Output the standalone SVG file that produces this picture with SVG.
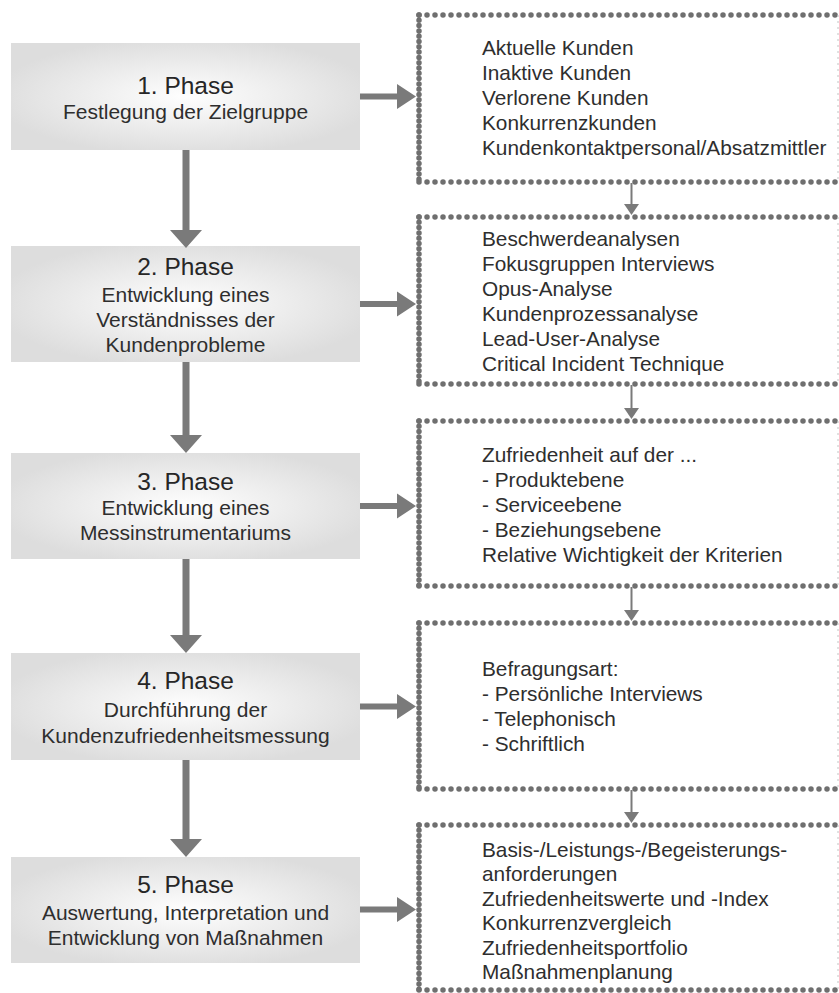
<svg xmlns="http://www.w3.org/2000/svg" width="839" height="993" viewBox="0 0 839 993">
<defs>
<radialGradient id="pg" cx="50%" cy="50%" r="55%">
<stop offset="0" stop-color="#fefefe"/>
<stop offset="0.55" stop-color="#ececec"/>
<stop offset="1" stop-color="#dddddd"/>
</radialGradient>
<style>
.pbox{fill:url(#pg);}
.title{font-family:"Liberation Sans",Arial,sans-serif;font-size:24.5px;fill:#262626;text-anchor:middle;}
.sub{font-family:"Liberation Sans",Arial,sans-serif;font-size:21px;fill:#2e2e2e;text-anchor:middle;}
.item{font-family:"Liberation Sans",Arial,sans-serif;font-size:20.8px;fill:#2e2e2e;}
.dh{stroke:#6f6f6f;stroke-width:5.5;stroke-linecap:round;stroke-dasharray:0 8;fill:none;}
.dv{stroke:#6f6f6f;stroke-width:5.5;stroke-linecap:round;stroke-dasharray:0 5.3;fill:none;}
.dr{stroke:#c4c4c4;stroke-width:1;stroke-dasharray:2 4;fill:none;}
.arr{fill:#7a7a7a;}
.thin{stroke:#7a7a7a;stroke-width:2;fill:none;}
</style>
</defs>
<rect width="839" height="993" fill="#ffffff"/>

<g id="phase1">
<rect class="pbox" x="11" y="43" width="349" height="107"/>
<text class="title" x="185.5" y="94">1. Phase</text>
<text class="sub" x="185.5" y="118.5">Festlegung der Zielgruppe</text>
</g>
<g id="phase2">
<rect class="pbox" x="11" y="246" width="349" height="116"/>
<text class="title" x="185.5" y="275">2. Phase</text>
<text class="sub" x="185.5" y="301.5">Entwicklung eines</text>
<text class="sub" x="185.5" y="326.5">Verständnisses der</text>
<text class="sub" x="185.5" y="351.5">Kundenprobleme</text>
</g>
<g id="phase3">
<rect class="pbox" x="11" y="453" width="349" height="106"/>
<text class="title" x="185.5" y="490">3. Phase</text>
<text class="sub" x="185.5" y="515">Entwicklung eines</text>
<text class="sub" x="185.5" y="540">Messinstrumentariums</text>
</g>
<g id="phase4">
<rect class="pbox" x="11" y="653" width="349" height="107"/>
<text class="title" x="185.5" y="689">4. Phase</text>
<text class="sub" x="185.5" y="716.5">Durchführung der</text>
<text class="sub" x="185.5" y="742.5">Kundenzufriedenheitsmessung</text>
</g>
<g id="phase5">
<rect class="pbox" x="11" y="857" width="349" height="106"/>
<text class="title" x="185.5" y="893">5. Phase</text>
<text class="sub" x="185.5" y="919.5">Auswertung, Interpretation und</text>
<text class="sub" x="185.5" y="944.5">Entwicklung von Maßnahmen</text>
</g>

<g id="list1">
<line class="dh" x1="419" y1="15" x2="839" y2="15"/>
<line class="dh" x1="419" y1="182" x2="839" y2="182"/>
<line class="dv" x1="419" y1="15" x2="419" y2="182"/>
<line class="dr" x1="838" y1="15" x2="838" y2="182"/>
<text class="item" x="482" y="55">Aktuelle Kunden</text>
<text class="item" x="482" y="80">Inaktive Kunden</text>
<text class="item" x="482" y="105">Verlorene Kunden</text>
<text class="item" x="482" y="130">Konkurrenzkunden</text>
<text class="item" x="482" y="155">Kundenkontaktpersonal/Absatzmittler</text>
</g>
<g id="list2">
<line class="dh" x1="419" y1="217" x2="839" y2="217"/>
<line class="dh" x1="419" y1="384" x2="839" y2="384"/>
<line class="dv" x1="419" y1="217" x2="419" y2="384"/>
<line class="dr" x1="838" y1="217" x2="838" y2="384"/>
<text class="item" x="482" y="245.5">Beschwerdeanalysen</text>
<text class="item" x="482" y="270.5">Fokusgruppen Interviews</text>
<text class="item" x="482" y="295.5">Opus-Analyse</text>
<text class="item" x="482" y="320.5">Kundenprozessanalyse</text>
<text class="item" x="482" y="345.5">Lead-User-Analyse</text>
<text class="item" x="482" y="370.5">Critical Incident Technique</text>
</g>
<g id="list3">
<line class="dh" x1="419" y1="421" x2="839" y2="421"/>
<line class="dh" x1="419" y1="586" x2="839" y2="586"/>
<line class="dv" x1="419" y1="421" x2="419" y2="586"/>
<line class="dr" x1="838" y1="421" x2="838" y2="586"/>
<text class="item" x="482" y="461.5">Zufriedenheit auf der ...</text>
<text class="item" x="482" y="486.5">- Produktebene</text>
<text class="item" x="482" y="511.5">- Serviceebene</text>
<text class="item" x="482" y="536.5">- Beziehungsebene</text>
<text class="item" x="482" y="561.5">Relative Wichtigkeit der Kriterien</text>
</g>
<g id="list4">
<line class="dh" x1="419" y1="623" x2="839" y2="623"/>
<line class="dh" x1="419" y1="789" x2="839" y2="789"/>
<line class="dv" x1="419" y1="623" x2="419" y2="789"/>
<line class="dr" x1="838" y1="623" x2="838" y2="789"/>
<text class="item" x="482" y="676">Befragungsart:</text>
<text class="item" x="482" y="701">- Persönliche Interviews</text>
<text class="item" x="482" y="726">- Telephonisch</text>
<text class="item" x="482" y="751">- Schriftlich</text>
</g>
<g id="list5">
<line class="dh" x1="419" y1="825" x2="839" y2="825"/>
<line class="dh" x1="419" y1="990" x2="839" y2="990"/>
<line class="dv" x1="419" y1="825" x2="419" y2="990"/>
<line class="dr" x1="838" y1="825" x2="838" y2="990"/>
<text class="item" x="482" y="856.5">Basis-/Leistungs-/Begeisterungs-</text>
<text class="item" x="482" y="881">anforderungen</text>
<text class="item" x="482" y="905.5">Zufriedenheitswerte und -Index</text>
<text class="item" x="482" y="930">Konkurrenzvergleich</text>
<text class="item" x="482" y="954.5">Zufriedenheitsportfolio</text>
<text class="item" x="482" y="979">Maßnahmenplanung</text>
</g>

<g id="connectors">
<polygon class="arr" points="182.5,150 189.5,150 189.5,230 202,230 186,248 170,230 182.5,230"/>
<polygon class="arr" points="182.5,362 189.5,362 189.5,435 202,435 186,453 170,435 182.5,435"/>
<polygon class="arr" points="182.5,559 189.5,559 189.5,635 202,635 186,653 170,635 182.5,635"/>
<polygon class="arr" points="182.5,760 189.5,760 189.5,839 202,839 186,857 170,839 182.5,839"/>
<polygon class="arr" points="360,93.5 397,93.5 397,84 416,96.5 397,109 397,99.5 360,99.5"/>
<polygon class="arr" points="360,301 397,301 397,291.5 416,304 397,316.5 397,307 360,307"/>
<polygon class="arr" points="360,503 397,503 397,493.5 416,506 397,518.5 397,509 360,509"/>
<polygon class="arr" points="360,703.5 397,703.5 397,694 416,706.5 397,719 397,709.5 360,709.5"/>
<polygon class="arr" points="360,906.5 397,906.5 397,897 416,909.5 397,922 397,912.5 360,912.5"/>
<line class="thin" x1="631.5" y1="183" x2="631.5" y2="210"/>
<polygon class="arr" points="624,204 639,204 631.5,215"/>
<line class="thin" x1="631.5" y1="385" x2="631.5" y2="414"/>
<polygon class="arr" points="624,408 639,408 631.5,419"/>
<line class="thin" x1="631.5" y1="587" x2="631.5" y2="616"/>
<polygon class="arr" points="624,610 639,610 631.5,621"/>
<line class="thin" x1="631.5" y1="790" x2="631.5" y2="818"/>
<polygon class="arr" points="624,812 639,812 631.5,823"/>
</g>
</svg>
